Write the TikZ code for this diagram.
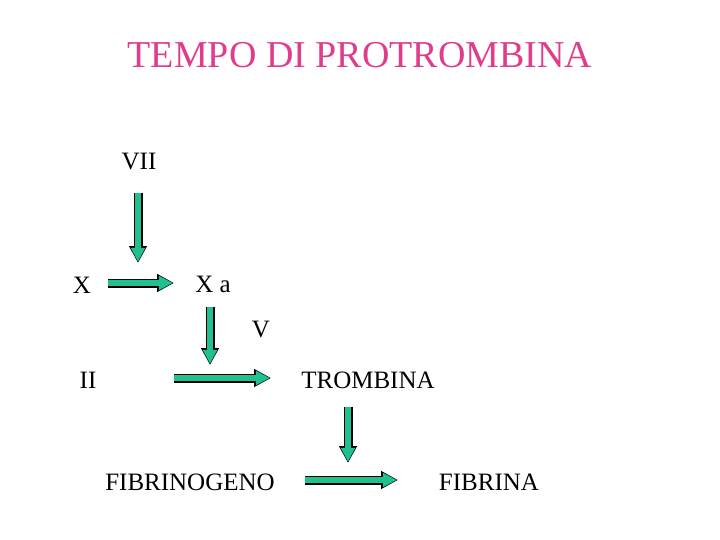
\documentclass[tikz,border=0pt]{standalone}
\usepackage{fontspec}
\setmainfont{Liberation Serif}
\usetikzlibrary{arrows.meta}
\definecolor{arrgreen}{HTML}{20C090}
\definecolor{titlepink}{HTML}{E03C8C}
\tikzset{
  lbl/.style={font=\fontsize{25}{28}\selectfont, inner sep=0pt},
  bout/.style={line width=9pt, black, -{Triangle[length=17pt,width=17pt]}},
  bin/.style={line width=6.5pt, arrgreen, shorten >=1.2pt, -{Triangle[length=14pt,width=13.5pt]}},
}
\newcommand{\blockarr}[2]{\draw[bout] (#1) -- (#2); \draw[bin] (#1) -- (#2);}
\begin{document}
\begin{tikzpicture}[x=1pt,y=-1pt]
\useasboundingbox (0,0) rectangle (720,540);
\node[font=\fontsize{38}{42}\selectfont, text=titlepink] (title) at (360,55) {TEMPO DI PROTROMBINA};
\node[lbl] (vii) at (139,162) {VII};
\node[lbl] (x) at (82,285) {X};
\node[lbl] (xa) at (213,284) {X a};
\node[lbl] (v) at (261,330) {V};
\node[lbl] (ii) at (88,380) {II};
\node[lbl] (tromb) at (368,380) {TROMBINA};
\node[lbl] (fibg) at (190,482) {FIBRINOGENO};
\node[lbl] (fib) at (489,482) {FIBRINA};
\coordinate (a1s) at (138,193); \coordinate (a1e) at (138,263);
\coordinate (a2s) at (108,283); \coordinate (a2e) at (174,283);
\coordinate (a3s) at (210,307); \coordinate (a3e) at (210,365);
\coordinate (a4s) at (174,378); \coordinate (a4e) at (271,378);
\coordinate (a5s) at (348,407); \coordinate (a5e) at (348,463);
\coordinate (a6s) at (305,480); \coordinate (a6e) at (398,480);
\blockarr{a1s}{a1e}
\blockarr{a2s}{a2e}
\blockarr{a3s}{a3e}
\blockarr{a4s}{a4e}
\blockarr{a5s}{a5e}
\blockarr{a6s}{a6e}
\end{tikzpicture}
\end{document}
